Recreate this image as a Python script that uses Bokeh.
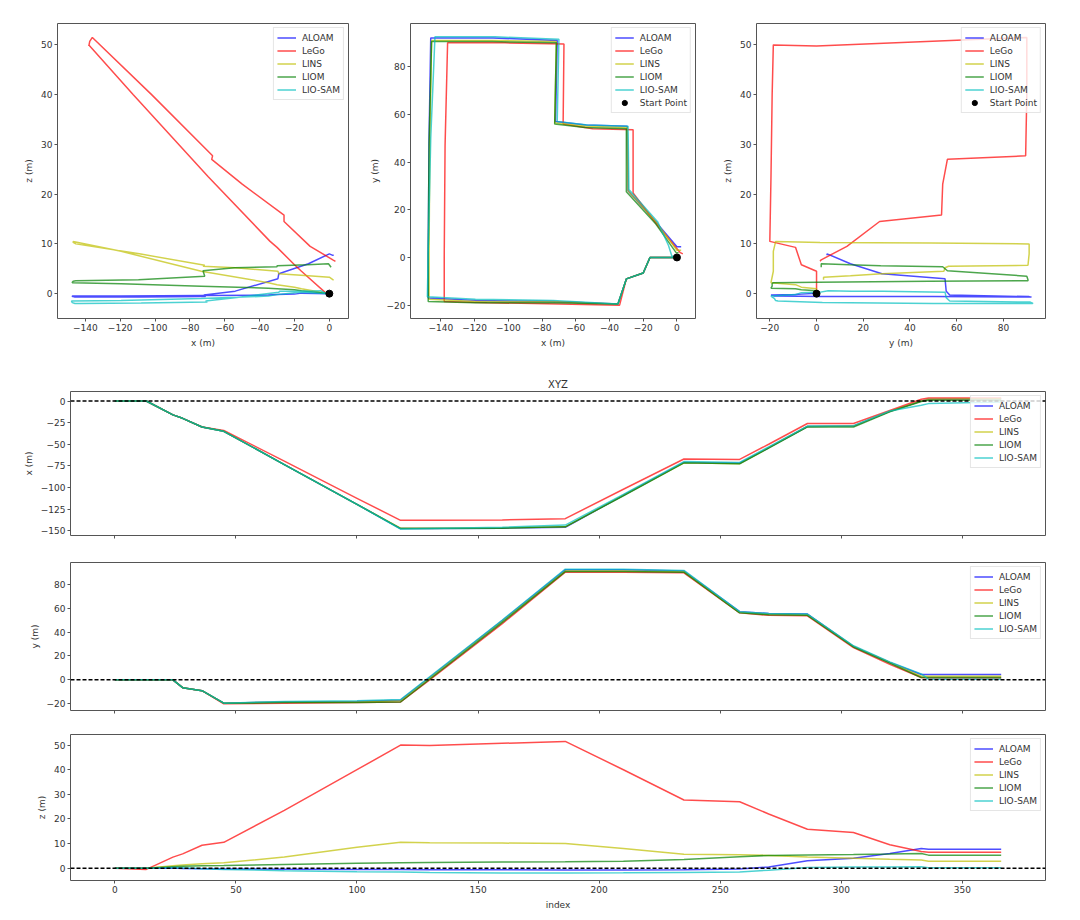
from bokeh.plotting import figure
from bokeh.layouts import column, row
from bokeh.models import Span, FixedTicker, Range1d
from bokeh.embed import file_html
from bokeh.resources import INLINE

# ---------------- data ----------------
IDX = [0, 13, 24, 28, 36, 45, 70, 100, 118, 130, 160, 186, 210, 235, 258, 270, 286, 305, 320, 333, 336, 366]

ALOAM_X = [0, 0, -16, -20, -30, -35, -73.5, -119.5, -147.5, -147.5, -147, -146, -109, -71, -72, -54, -29.5, -29, -12, 0, 2, 2.5]
LEGO_X = [0, 0, -16, -20, -30, -34, -69.5, -112.5, -138, -138, -137.5, -136, -102, -67, -67.5, -50, -26, -26, -11, 2, 3.5, 3.5]
LINS_X = [0, 0, -16, -20, -30, -35, -73.5, -119.5, -147, -147, -146.5, -145.5, -109, -71.5, -72.5, -54, -29.5, -29, -12, 0, 2, 2.5]
LIOM_X = [0, 0, -16, -20, -30, -35, -73.5, -119.5, -147.5, -147.5, -147, -145.5, -109.5, -71.5, -72.5, -54.5, -30, -30, -12.5, -0.5, 1, 1]
LIOSAM_X = [0, 0, -16, -20, -30, -35, -73.5, -119.5, -148, -147.5, -146, -143.5, -108, -70, -71, -53, -29, -28.5, -11.5, -5, -3, -1]

ALOAM_Y = [0, 0, 0, -6.5, -9, -19.5, -18.5, -18, -17, 2, 49.5, 92, 92, 91, 57, 55.5, 55, 28, 14.5, 4.5, 4.5, 4.5]
LEGO_Y = [0, 0, 0, -6.5, -9, -20, -19.5, -19, -18.5, 0, 47, 90, 90, 89.5, 56, 54, 53.5, 27, 13, 2, 1.5, 1.5]
LINS_Y = [0, 0, 0, -6.5, -9, -19.5, -18.5, -18.5, -17.5, 1.5, 49, 91, 91, 90.5, 56.5, 55, 54.5, 28, 14.5, 3, 3, 3]
LIOM_Y = [0, 0, 0, -6.5, -9, -19.5, -19, -19, -18.5, 0.5, 48, 90.5, 90.5, 90, 56, 54.5, 54, 27.5, 14, 2, 2, 2]
LIOSAM_Y = [0, 0, 0, -6.5, -9, -19.5, -18, -17.5, -16.5, 2.5, 50, 92.5, 92.5, 91.5, 57, 55.5, 55, 28.5, 15, 5, 0.5, 0.5]

ALOAM_Z = [0, 0, 0.1, -0.1, -0.2, -0.3, -0.4, -0.5, -0.5, -0.6, -0.6, -0.7, -0.7, -0.6, -0.3, 0.5, 3, 4, 6, 8, 7.7, 7.7]
LEGO_Z = [0, -0.5, 4.5, 5.8, 9.3, 10.5, 23.5, 40, 50, 49.8, 50.7, 51.5, 40, 27.7, 27, 22, 15.8, 14.5, 9.5, 6.8, 6.5, 6.5]
LINS_Z = [0, 0, 1, 1.3, 1.8, 2.2, 4.5, 8.5, 10.5, 10.3, 10.2, 10, 8, 5.7, 5.5, 5.2, 4.5, 4, 3.6, 3.3, 2.8, 2.8]
LIOM_Z = [0, 0, 0.6, 0.8, 1, 1.1, 1.5, 2, 2.2, 2.3, 2.5, 2.6, 2.8, 3.5, 4.6, 5.2, 5.4, 5.6, 5.8, 6, 5.3, 5.3]
LIOSAM_Z = [0, 0, 0.3, 0.2, -0.2, -0.5, -1, -1.4, -1.5, -1.8, -2, -2, -1.9, -1.7, -1.5, -0.8, 0.3, 0.5, 0.5, 0.6, 0.2, 0.2]

METHODS = ["ALOAM", "LeGo", "LINS", "LIOM", "LIO-SAM"]
START_X = [0]
START_Y = [0]
START_Z = [0]
REF_LEVEL = 0

TICKS_X_TOP = [-140, -120, -100, -80, -60, -40, -20, 0]
TICKS_Z = [0, 10, 20, 30, 40, 50]
TICKS_Y = [-20, 0, 20, 40, 60, 80]
TICKS_Y_RIGHT = [-20, 0, 20, 40, 60, 80]
TICKS_INDEX = [0, 50, 100, 150, 200, 250, 300, 350]
TICKS_XPOS = [-150, -125, -100, -75, -50, -25, 0]

# ---------------- styling ----------------
COLORS = ["#0000ff", "#ff0000", "#bfbf00", "#008000", "#00bfbf"]
FONT = "DejaVu Sans"
TXT = "#333333"
EDGE = "#555555"

SERIES = [
    (METHODS[0], ALOAM_X, ALOAM_Y, ALOAM_Z),
    (METHODS[1], LEGO_X, LEGO_Y, LEGO_Z),
    (METHODS[2], LINS_X, LINS_Y, LINS_Z),
    (METHODS[3], LIOM_X, LIOM_Y, LIOM_Z),
    (METHODS[4], LIOSAM_X, LIOSAM_Y, LIOSAM_Z),
]


def lab(t):
    return str(t).replace("-", "\u2212")


def style(p, xticks, yticks, xlabel, ylabel, show_x=True):
    p.xgrid.grid_line_color = None
    p.ygrid.grid_line_color = None
    p.outline_line_color = EDGE
    p.outline_line_width = 1
    p.background_fill_color = "white"
    p.border_fill_color = "white"
    p.xaxis.ticker = FixedTicker(ticks=xticks)
    p.yaxis.ticker = FixedTicker(ticks=yticks)
    if show_x:
        p.xaxis.major_label_overrides = {t: lab(t) for t in xticks}
    else:
        p.xaxis.major_label_overrides = {t: "" for t in xticks}
    p.yaxis.major_label_overrides = {t: lab(t) for t in yticks}
    for ax in (p.xaxis[0], p.yaxis[0]):
        ax.axis_line_color = None
        ax.major_tick_line_color = EDGE
        ax.major_tick_out = 3
        ax.major_tick_in = 0
        ax.minor_tick_line_color = None
        ax.major_label_text_font = FONT
        ax.major_label_text_font_size = "9px"
        ax.major_label_text_color = TXT
        ax.major_label_standoff = 2
        ax.axis_label_text_font = FONT
        ax.axis_label_text_font_size = "9px"
        ax.axis_label_text_font_style = "normal"
        ax.axis_label_text_color = TXT
        ax.axis_label_standoff = 4
    if xlabel:
        p.xaxis.axis_label = xlabel
    if ylabel:
        p.yaxis.axis_label = ylabel


def style_legend(p):
    lg = p.legend[0]
    lg.location = "top_right"
    lg.margin = 4
    lg.padding = 3
    lg.spacing = 0
    lg.glyph_width = 19
    lg.glyph_height = 13
    lg.label_height = 13
    lg.label_standoff = 6
    lg.label_text_font = FONT
    lg.label_text_font_size = "9px"
    lg.label_text_color = TXT
    lg.border_line_color = "#cccccc"
    lg.border_line_width = 1
    lg.background_fill_alpha = 0.8


def top_fig(width, left, right, xr, yr):
    return figure(width=width, height=365, x_range=Range1d(*xr), y_range=Range1d(*yr),
                  min_border_left=left, min_border_right=right, min_border_top=23,
                  min_border_bottom=47, toolbar_location=None, output_backend="svg",
                  title=None)


# ---- top left: x vs z
p1 = top_fig(366, 57, 18, (-156, 11), (-5, 54.3))
for (name, xs, ys, zs), c in zip(SERIES, COLORS):
    p1.line(xs, zs, line_color=c, line_width=1.5, line_alpha=0.7, legend_label=name)
p1.scatter(START_X, START_Z, size=7, color="black")
style(p1, TICKS_X_TOP, TICKS_Z, "x (m)", "z (m)")
style_legend(p1)

# ---- top middle: x vs y
p2 = top_fig(354, 40, 25, (-158, 11), (-25.6, 98.1))
for (name, xs, ys, zs), c in zip(SERIES, COLORS):
    p2.line(xs, ys, line_color=c, line_width=1.5, line_alpha=0.7, legend_label=name)
p2.scatter(START_X, START_Y, size=7, color="black", legend_label="Start Point")
style(p2, TICKS_X_TOP, TICKS_Y, "x (m)", "y (m)")
style_legend(p2)

# ---- top right: y vs z
p3 = top_fig(352, 34, 27, (-25.7, 98), (-5, 54.3))
for (name, xs, ys, zs), c in zip(SERIES, COLORS):
    p3.line(ys, zs, line_color=c, line_width=1.5, line_alpha=0.7, legend_label=name)
p3.scatter(START_Y, START_Z, size=7, color="black", legend_label="Start Point")
style(p3, TICKS_Y_RIGHT, TICKS_Z, "y (m)", "z (m)")
style_legend(p3)

# ---- bottom: vs index
shared_x = Range1d(-18.3, 384.3)


def bottom_fig(height, top, bottom, yr, title=None):
    return figure(width=1072, height=height, x_range=shared_x, y_range=Range1d(*yr),
                  min_border_left=70, min_border_right=27, min_border_top=top,
                  min_border_bottom=bottom, toolbar_location=None, output_backend="svg",
                  title=title)


p4 = bottom_fig(196, 26, 26, (-155.5, 11), "XYZ")
p4.title.align = "center"
p4.title.text_font = FONT
p4.title.text_font_size = "10px"
p4.title.text_font_style = "normal"
p4.title.text_color = TXT
p4.title.standoff = 3
p5 = bottom_fig(172, 1, 23, (-25.6, 98.1))
p6 = bottom_fig(179, 1, 31, (-5, 54.3))

for (name, xs, ys, zs), c in zip(SERIES, COLORS):
    p4.line(IDX, xs, line_color=c, line_width=1.5, line_alpha=0.7, legend_label=name)
    p5.line(IDX, ys, line_color=c, line_width=1.5, line_alpha=0.7, legend_label=name)
    p6.line(IDX, zs, line_color=c, line_width=1.5, line_alpha=0.7, legend_label=name)

style(p4, TICKS_INDEX, TICKS_XPOS, None, "x (m)", show_x=False)
style(p5, TICKS_INDEX, TICKS_Y, None, "y (m)", show_x=False)
style(p6, TICKS_INDEX, TICKS_Z, "index", "z (m)")
for p in (p4, p5, p6):
    p.add_layout(Span(location=REF_LEVEL, dimension="width", line_color="black",
                      line_dash="4 2", line_width=1.5))
    style_legend(p)

layout = column(row(p1, p2, p3), p4, p5, p6)
open("out.html", "w").write(file_html(layout, INLINE))
